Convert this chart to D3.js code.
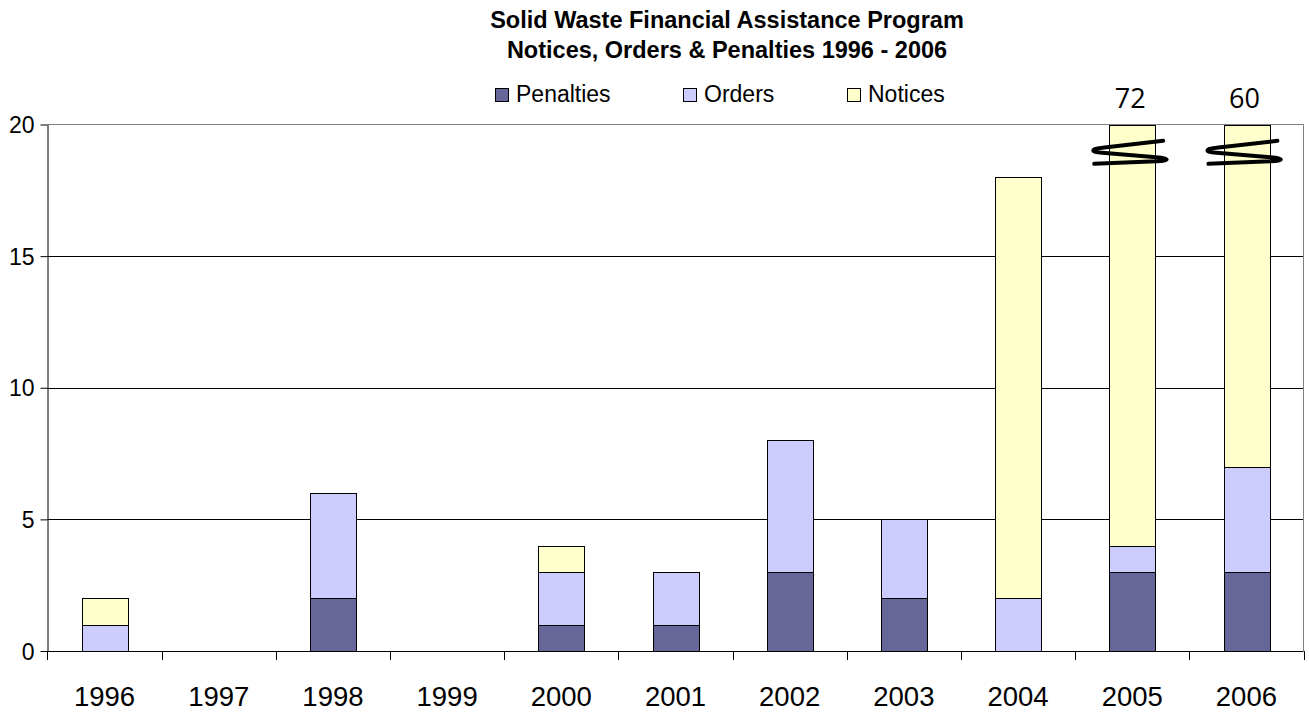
<!DOCTYPE html>
<html>
<head>
<meta charset="utf-8">
<script src="https://cdn.jsdelivr.net/npm/d3@7/dist/d3.min.js"></script>
<style>
  html, body { margin: 0; padding: 0; background: #fff; }
  svg { display: block; }
</style>
</head>
<body>
<svg id="chart" width="1309" height="715"></svg>
<script>
// ---- data ----
const years = ["1996","1997","1998","1999","2000","2001","2002","2003","2004","2005","2006"];
const penalties = [0, 0, 2, 0, 1, 1, 3, 2, 0, 3, 3];
const orders    = [1, 0, 4, 0, 2, 2, 5, 3, 2, 1, 4];
const notices   = [1, 0, 0, 0, 1, 0, 0, 0, 16, 68, 53];
const seriesNames = ["Penalties", "Orders", "Notices"];
const seriesColors = ["#666699", "#CCCCFF", "#FFFFCC"];
const yTicks = [0, 5, 10, 15, 20];
const brokenYears = ["2005", "2006"];
const titleLines = ["Solid Waste Financial Assistance Program", "Notices, Orders & Penalties 1996 - 2006"];

// ---- layout ----
const svg = d3.select("#chart");
const plot = { left: 47.5, right: 1303.5, top: 124.5, bottom: 651 };
const FONT = "'Liberation Sans', Arial, sans-serif";

const rows = years.map((y, i) => ({ year: y, Penalties: penalties[i], Orders: orders[i], Notices: notices[i] }));
const stacked = d3.stack().keys(seriesNames)(rows);

const x = d3.scaleBand().domain(years).range([plot.left, plot.right]).paddingInner(0.6).paddingOuter(0.3);
const y = d3.scaleLinear().domain([0, 20]).range([plot.bottom, plot.top]).clamp(true);
const color = d3.scaleOrdinal().domain(seriesNames).range(seriesColors);

// gridlines
svg.append("g").selectAll("line").data(yTicks.filter(t => t > 0 && t < 20)).join("line")
  .attr("x1", plot.left).attr("x2", plot.right)
  .attr("y1", d => Math.round(y(d)) + 0.5).attr("y2", d => Math.round(y(d)) + 0.5)
  .attr("stroke", "#000").attr("stroke-width", 1);

// bars
svg.append("g").selectAll("g").data(stacked).join("g")
  .attr("fill", d => color(d.key))
  .selectAll("rect").data(d => d.filter(s => s[1] - s[0] > 0)).join("rect")
  .attr("x", d => Math.round(x(d.data.year)) + 0.5)
  .attr("width", Math.round(x.bandwidth()))
  .attr("y", d => Math.round(y(d[1])) + 0.5)
  .attr("height", d => Math.round(y(d[0])) - Math.round(y(d[1])))
  .attr("stroke", "#000").attr("stroke-width", 1);

// plot border (top, right)
svg.append("path")
  .attr("d", `M${plot.left},${plot.top}H${plot.right}V${plot.bottom}`)
  .attr("fill", "none").attr("stroke", "#808080").attr("stroke-width", 1);

// y axis
const yAxis = svg.append("g").attr("transform", `translate(${plot.left},0)`)
  .call(d3.axisLeft(y).tickValues(yTicks).tickSize(7).tickSizeOuter(0).tickPadding(6));
yAxis.select(".domain").attr("stroke", "#000");
yAxis.selectAll("line").attr("stroke", "#000");
yAxis.selectAll("text").attr("font-family", FONT)
  .attr("font-size", 23).attr("fill", "#000").attr("dy", "0.35em");

// x axis
svg.append("line").attr("x1", plot.left).attr("x2", plot.right)
  .attr("y1", plot.bottom + 0.5).attr("y2", plot.bottom + 0.5).attr("stroke", "#000");
const bounds = years.map(yr => x(yr) - x.step() * x.paddingInner() / 2);
bounds.push(plot.right);
svg.append("g").selectAll("line").data(bounds).join("line")
  .attr("x1", d => Math.round(d) + 0.5).attr("x2", d => Math.round(d) + 0.5)
  .attr("y1", plot.bottom).attr("y2", plot.bottom + 9)
  .attr("stroke", "#000");
svg.append("g").selectAll("text").data(years).join("text")
  .attr("x", d => x(d) + x.bandwidth() / 2).attr("y", 706)
  .attr("text-anchor", "middle")
  .attr("font-family", FONT).attr("font-size", 27.5)
  .text(d => d);

// break marks and totals
const totals = years.map((yr, i) => penalties[i] + orders[i] + notices[i]);
const brk = svg.append("g");
brokenYears.forEach(yr => {
  const cx = x(yr) + x.bandwidth() / 2 - 2;
  const cy = y(19);
  const p = d3.path();
  p.moveTo(cx + 33, cy - 10);
  p.lineTo(cx - 28, cy - 3);
  p.bezierCurveTo(cx - 40, cy - 2, cx - 40, cy + 1.5, cx - 28, cy + 2);
  p.lineTo(cx + 26, cy + 6.5);
  p.bezierCurveTo(cx + 40, cy + 7.5, cx + 40, cy + 10, cx + 26, cy + 10.5);
  p.lineTo(cx - 36, cy + 13);
  brk.append("path").attr("d", p.toString())
    .attr("fill", "none").attr("stroke", "#000").attr("stroke-width", 4)
    .attr("stroke-linecap", "round").attr("stroke-linejoin", "round");
  brk.append("text")
    .attr("x", cx).attr("y", 108)
    .attr("text-anchor", "middle")
    .attr("font-family", "'Open Sans', sans-serif").attr("font-size", 27)
    .text(totals[years.indexOf(yr)]);
});

// title
svg.append("g").selectAll("text").data(titleLines).join("text")
  .attr("x", 727).attr("y", (d, i) => 28 + i * 30)
  .attr("text-anchor", "middle")
  .attr("font-family", FONT)
  .attr("font-weight", "bold").attr("font-size", 23.5)
  .text(d => d);

// legend
const legendX = [495, 683, 847];
const lg = svg.append("g").selectAll("g").data(seriesNames).join("g")
  .attr("transform", (d, i) => `translate(${legendX[i]},88)`);
lg.append("rect").attr("x", 0.5).attr("y", 0.5).attr("width", 13).attr("height", 13)
  .attr("fill", d => color(d)).attr("stroke", "#000");
lg.append("text").attr("x", 21).attr("y", 14)
  .attr("font-family", FONT).attr("font-size", 23)
  .text(d => d);
</script>
</body>
</html>
